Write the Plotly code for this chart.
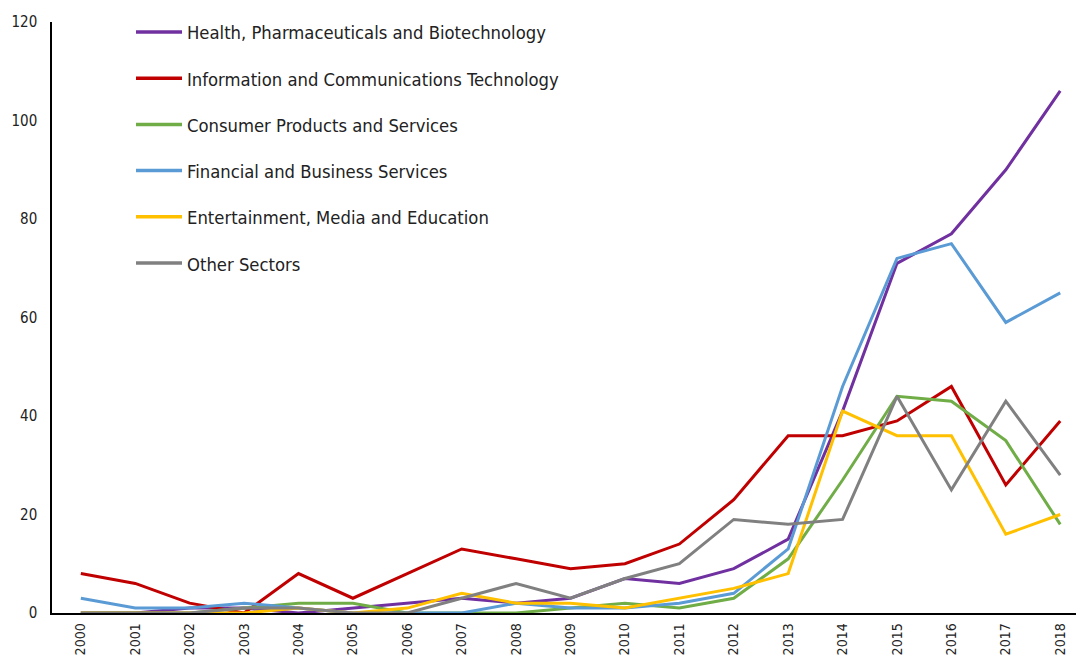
import plotly.graph_objects as go

years = [str(y) for y in range(2000, 2019)]

health = [0, 0, 1, 1, 0, 1, 2, 3, 2, 3, 7, 6, 9, 15, 41, 71, 77, 90, 106]
ict = [8, 6, 2, 0, 8, 3, 8, 13, 11, 9, 10, 14, 23, 36, 36, 39, 46, 26, 39]
consumer = [0, 0, 0, 1, 2, 2, 0, 0, 0, 1, 2, 1, 3, 11, 27, 44, 43, 35, 18]
financial = [3, 1, 1, 2, 1, 0, 0, 0, 2, 1, 1, 2, 4, 13, 46, 72, 75, 59, 65]
entertainment = [0, 0, 0, 0, 1, 0, 1, 4, 2, 2, 1, 3, 5, 8, 41, 36, 36, 16, 20]
other = [0, 0, 0, 1, 1, 0, 0, 3, 6, 3, 7, 10, 19, 18, 19, 44, 25, 43, 28]

series_names = [
    "Health, Pharmaceuticals and Biotechnology",
    "Information and Communications Technology",
    "Consumer Products and Services",
    "Financial and Business Services",
    "Entertainment, Media and Education",
    "Other Sectors",
]
series_values = [health, ict, consumer, financial, entertainment, other]
colors = ["#7030A0", "#C00000", "#70AD47", "#5B9BD5", "#FFC000", "#808080"]

FONT = "DejaVu Sans Condensed, DejaVu Sans, sans-serif"
TEXT = "#222222"

W, H = 1076, 656
ML, MR, MT, MB = 52, 0, 22, 43
PW, PH = W - ML - MR, H - MT - MB


def px_x(px):
    return (px - ML) / PW


def px_y(py):
    return (H - MB - py) / PH


fig = go.Figure()
for name, vals, col in zip(series_names, series_values, colors):
    fig.add_trace(go.Scatter(
        x=years, y=vals, mode="lines", name=name,
        line=dict(color=col, width=3), showlegend=False,
    ))

# Legend drawn as a key of short line samples with labels
shapes, annotations = [], []
for k, (name, col) in enumerate(zip(series_names, colors)):
    ky = 32 + 46.2 * k
    shapes.append(dict(
        type="line", xref="paper", yref="paper",
        x0=px_x(136), x1=px_x(182), y0=px_y(ky), y1=px_y(ky),
        line=dict(color=col, width=3.5),
    ))
    annotations.append(dict(
        xref="paper", yref="paper", x=px_x(185), y=px_y(ky + 1),
        xanchor="left", yanchor="middle", showarrow=False,
        text=name, font=dict(family=FONT, size=18.3, color=TEXT),
    ))

fig.update_layout(
    width=W, height=H,
    margin=dict(l=ML, r=MR, t=MT, b=MB),
    paper_bgcolor="white", plot_bgcolor="white",
    font=dict(family=FONT, size=15, color=TEXT),
    showlegend=False,
    shapes=shapes, annotations=annotations,
    xaxis=dict(
        type="category", range=[-0.53, 18.29], automargin=False,
        showline=True, linecolor="black", linewidth=1.5,
        showgrid=False, zeroline=False, ticks="",
        tickangle=-90, tickfont=dict(size=14), ticklabelstandoff=3,
    ),
    yaxis=dict(
        range=[0, 120], dtick=20, automargin=False,
        showline=True, linecolor="black", linewidth=1.5,
        showgrid=False, zeroline=False, ticks="",
        tickfont=dict(size=15), ticklabelstandoff=10,
    ),
)

fig.write_html("out.html")
